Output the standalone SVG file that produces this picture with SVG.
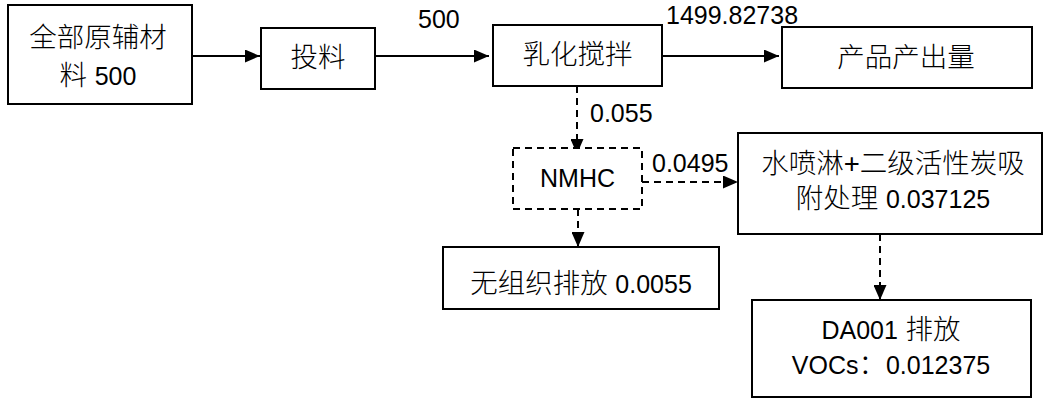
<svg xmlns="http://www.w3.org/2000/svg" width="1045" height="399" viewBox="0 0 1045 399">
<style>
.box{fill:#fff;stroke:#000;stroke-width:2}
.dbox{fill:#fff;stroke:#000;stroke-width:2;stroke-dasharray:7,5}
.ln{fill:none;stroke:#000;stroke-width:2}
.dln{fill:none;stroke:#000;stroke-width:2;stroke-dasharray:7,5}
text{font-family:"Liberation Sans","Noto Sans CJK SC",sans-serif;font-size:27.5px;font-weight:300;fill:#000}
.lat,.lbl{font-size:25px;font-weight:400}
.c{text-anchor:middle}
</style>
<defs>
<marker id="ah" markerUnits="userSpaceOnUse" markerWidth="15" markerHeight="13" refX="15" refY="6.5" orient="auto">
<path d="M0,0 L15,6.5 L0,13 z" fill="#000"/>
</marker>
</defs>
<rect width="1045" height="399" fill="#fff"/>
<g id="connectors">
<line class="ln" x1="192" y1="56" x2="260" y2="56" marker-end="url(#ah)"/>
<line class="ln" x1="375" y1="56" x2="489" y2="56" marker-end="url(#ah)"/>
<line class="ln" x1="662" y1="56" x2="779" y2="56" marker-end="url(#ah)"/>
<line class="dln" x1="577" y1="86" x2="577" y2="154" marker-end="url(#ah)"/>
<line class="dln" x1="642" y1="182" x2="738" y2="182" marker-end="url(#ah)"/>
<line class="dln" x1="578" y1="209" x2="578" y2="247" marker-end="url(#ah)"/>
<line class="dln" x1="880" y1="234" x2="880" y2="300" marker-end="url(#ah)"/>
<text class="lbl" x="418" y="28">500</text>
<text class="lbl" x="666" y="24">1499.82738</text>
<text class="lbl" x="590" y="122">0.055</text>
<text class="lbl" x="652" y="172">0.0495</text>
</g>
<g id="n1">
<rect class="box" x="8" y="5" width="184" height="99"/>
<text class="c" x="98" y="47">全部原辅材</text>
<text class="c" x="98" y="85">料 <tspan class="lat">500</tspan></text>
</g>
<g id="n2">
<rect class="box" x="261" y="28" width="114" height="61"/>
<text class="c" x="318" y="67">投料</text>
</g>
<g id="n3">
<rect class="box" x="493" y="25" width="169" height="61"/>
<text class="c" x="577.5" y="64">乳化搅拌</text>
</g>
<g id="n4">
<rect class="box" x="782" y="27" width="250" height="61"/>
<text class="c" x="906" y="67">产品产出量</text>
</g>
<g id="n5">
<rect class="dbox" x="513" y="148" width="129" height="61"/>
<text class="c lat" x="577.5" y="187">NMHC</text>
</g>
<g id="n6">
<rect class="box" x="443" y="247" width="276" height="62"/>
<text class="c" x="581" y="293">无组织排放 <tspan class="lat">0.0055</tspan></text>
</g>
<g id="n7">
<rect class="box" x="738" y="133" width="304" height="101"/>
<text class="c" x="893" y="173">水喷淋+二级活性炭吸</text>
<text class="c" x="893" y="208">附处理 <tspan class="lat">0.037125</tspan></text>
</g>
<g id="n8">
<rect class="box" x="752" y="300" width="279" height="97"/>
<text class="c" x="891" y="339"><tspan class="lat">DA001</tspan> 排放</text>
<text class="c" x="891" y="374"><tspan class="lat">VOCs</tspan>：<tspan class="lat">0.012375</tspan></text>
</g>
</svg>
